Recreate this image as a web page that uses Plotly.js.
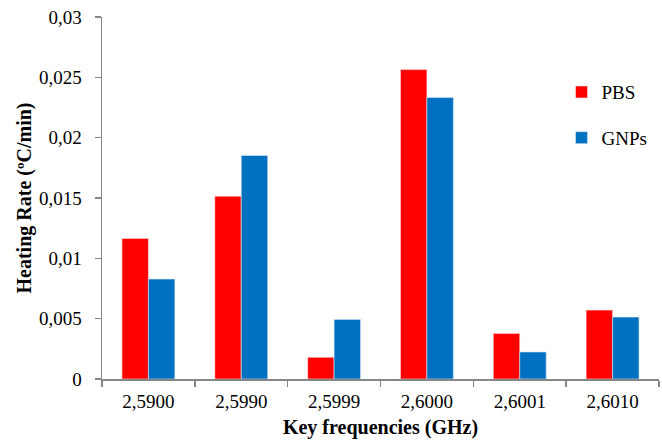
<!DOCTYPE html>
<html>
<head>
<meta charset="utf-8">
<script src="https://cdn.plot.ly/plotly-3.0.1.min.js"></script>
<style>html,body{margin:0;padding:0;background:#fff;}#chart{width:662px;height:440px;}</style>
</head>
<body>
<div id="chart"></div>
<script>
var categories = ["2,5900", "2,5990", "2,5999", "2,6000", "2,6001", "2,6010"];
var pbsValues = [0.01165, 0.01515, 0.0018, 0.02564, 0.00378, 0.00571];
var gnpValues = [0.00828, 0.01852, 0.00494, 0.02332, 0.00224, 0.00513];
var yTickVals = [0, 0.005, 0.01, 0.015, 0.02, 0.025, 0.03];
var yTickText = ["0", "0,005", "0,01", "0,015", "0,02", "0,025", "0,03"];

var serif = "Liberation Serif";

var traces = [
  {type: "bar", name: "PBS", x: categories, y: pbsValues, legendgroup: "a",
   marker: {color: "#FF0000", line: {color: "#FFE0E0", width: 0.6}}},
  {type: "bar", name: "GNPs", x: categories, y: gnpValues, legendgroup: "b",
   marker: {color: "#0070C0", line: {color: "#D8E8F6", width: 0.6}}}
];

var layout = {
  width: 662, height: 440,
  margin: {l: 102, r: 3, t: 17, b: 61},
  paper_bgcolor: "#fff", plot_bgcolor: "#fff",
  barmode: "group", bargap: 0.43, bargroupgap: 0,
  font: {family: serif, size: 19, color: "#000"},
  showlegend: true,
  legend: {x: 0.825, xanchor: "left", y: 0.845, yanchor: "top",
    font: {family: serif, size: 19, color: "#000"},
    traceorder: "grouped", tracegroupgap: 18, itemwidth: 30,
    bgcolor: "rgba(0,0,0,0)"},
  xaxis: {
    type: "category",
    showline: true, linecolor: "#868686", linewidth: 1.5,
    ticks: "outside", ticklen: 6, tickcolor: "#868686", tickwidth: 1.5,
    tickson: "boundaries",
    showgrid: false, zeroline: false,
    tickfont: {family: serif, size: 19, color: "#000"},
    ticklabelstandoff: 5,
    title: {text: "<b>Key frequencies (GHz)</b>", font: {family: serif, size: 20, color: "#000"}, standoff: 8}
  },
  yaxis: {
    range: [0, 0.03],
    tickvals: yTickVals, ticktext: yTickText,
    showline: true, linecolor: "#868686", linewidth: 1.5,
    ticks: "outside", ticklen: 6, tickcolor: "#868686", tickwidth: 1.5,
    showgrid: false, zeroline: false,
    tickfont: {family: serif, size: 19, color: "#000"},
    ticklabelstandoff: 9,
    title: {text: "<b>Heating Rate (ºC/min)</b>", font: {family: serif, size: 20, color: "#000"}, standoff: 2}
  }
};

Plotly.newPlot("chart", traces, layout, {displayModeBar: false, staticPlot: true});
</script>
</body>
</html>
